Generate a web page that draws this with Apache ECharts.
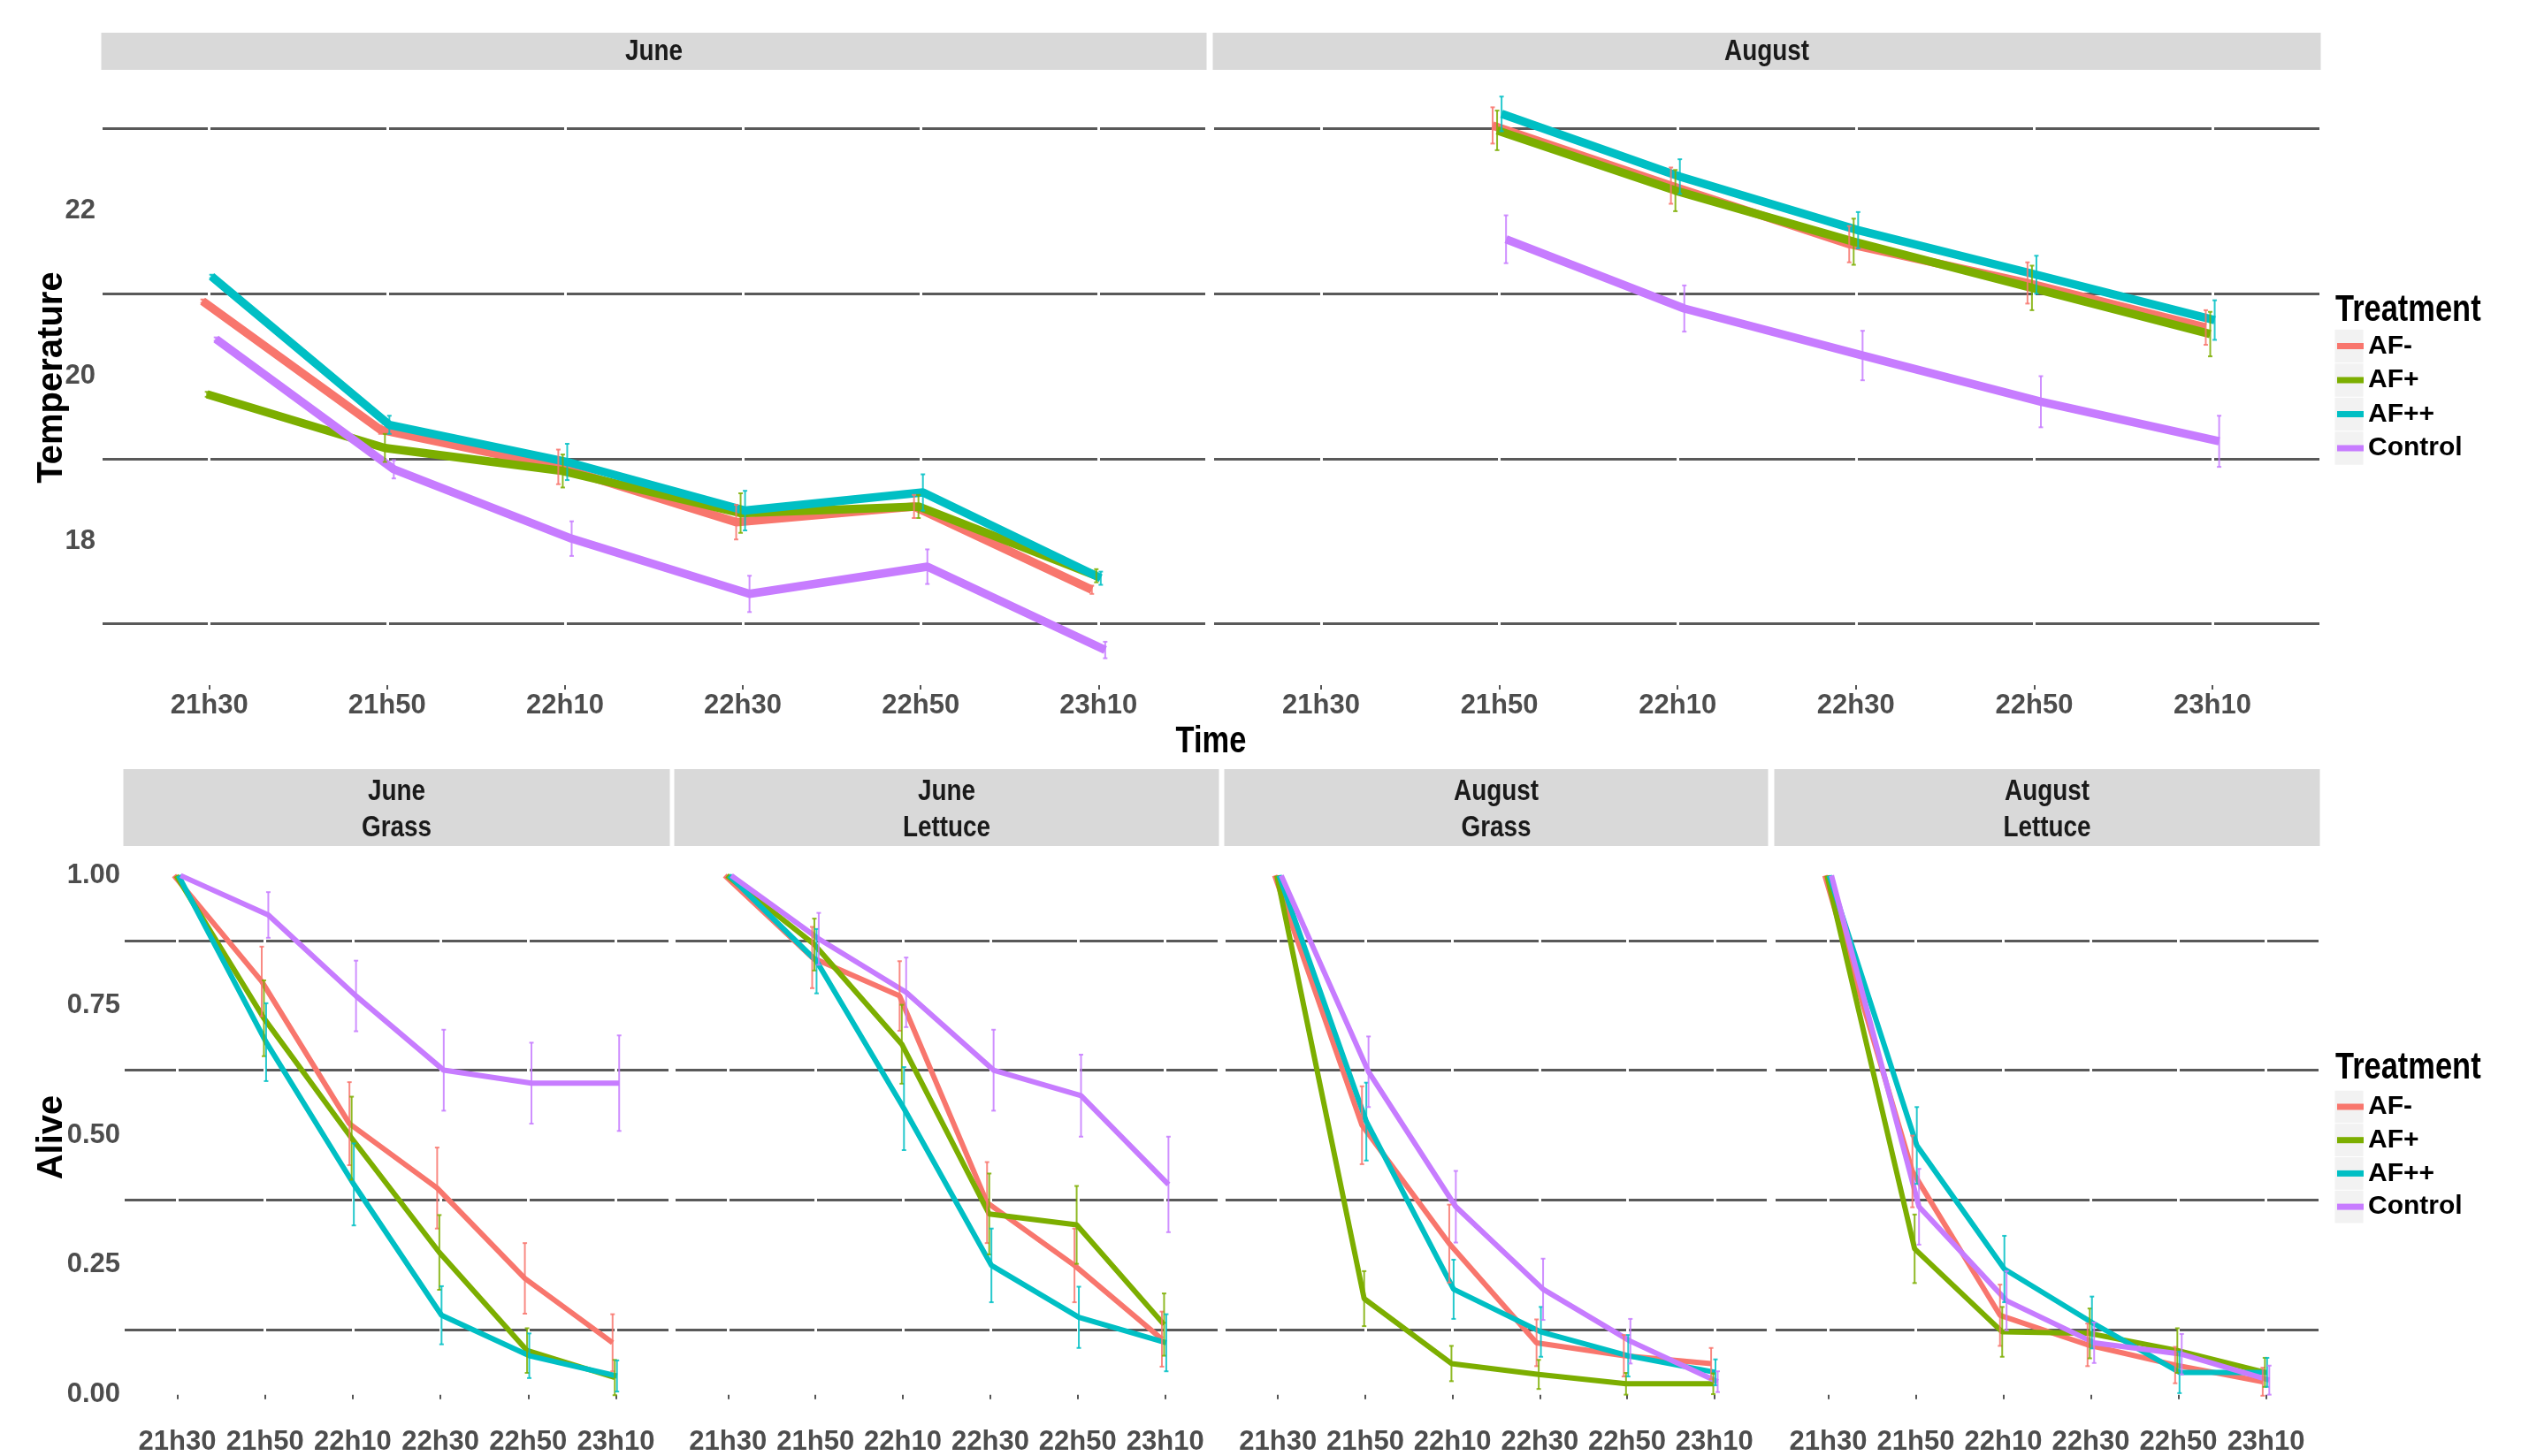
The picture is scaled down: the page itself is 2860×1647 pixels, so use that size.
<!DOCTYPE html>
<html><head><meta charset="utf-8">
<script src="https://cdn.jsdelivr.net/npm/echarts@6/dist/echarts.min.js"></script>
<style>html,body{margin:0;padding:0;background:#fff}#chart{width:2860px;height:1647px}</style>
</head><body><div id="chart"></div>
<script>
// ---------------- DATA ----------------
const times = ['21h30','21h50','22h10','22h30','22h50','23h10'];
const treatments = ['AF-','AF+','AF++','Control'];
const colors = ['#F8766D','#7CAE00','#00BFC4','#C77CFF'];
const tempTickLabels = [18, 20, 22];
const tempGridValues = [17, 19, 21, 23];
const aliveTickLabels = [0, 0.25, 0.5, 0.75, 1];
const aliveGridValues = [0.125, 0.375, 0.625, 0.875];

// Temperature (rows: AF-, AF+, AF++, Control)
const tempJune = [
  [20.91, 19.35, 18.90, 18.23, 18.42, 17.41],
  [19.78, 19.13, 18.85, 18.34, 18.42, 17.58],
  [21.21, 19.41, 18.96, 18.37, 18.59, 17.55],
  [20.45, 18.87, 18.03, 17.36, 17.69, 16.68]
];
const tempJuneErr = [
  [0.02, 0.05, 0.21, 0.21, 0.14, 0.05],
  [0.03, 0.17, 0.20, 0.24, 0.14, 0.08],
  [0.02, 0.11, 0.22, 0.24, 0.22, 0.08],
  [0.02, 0.11, 0.21, 0.22, 0.21, 0.10]
];
const tempAug = [
  [null, 23.04, 22.31, 21.60, 21.13, 20.59],
  [null, 22.98, 22.25, 21.63, 21.07, 20.51],
  [null, 23.18, 22.42, 21.77, 21.23, 20.68],
  [null, 21.66, 20.82, 20.25, 19.69, 19.21]
];
const tempAugErr = [
  [null, 0.22, 0.22, 0.22, 0.25, 0.21],
  [null, 0.24, 0.25, 0.28, 0.27, 0.27],
  [null, 0.21, 0.21, 0.22, 0.23, 0.24],
  [null, 0.29, 0.28, 0.30, 0.31, 0.31]
];

// Alive (rows: AF-, AF+, AF++, Control)
const aliveJuneGrass = [
  [1, 0.796, 0.522, 0.398, 0.224, 0.100],
  [1, 0.725, 0.494, 0.274, 0.085, 0.033],
  [1, 0.679, 0.405, 0.153, 0.075, 0.036],
  [1, 0.924, 0.768, 0.625, 0.600, 0.600]
];
const aliveJuneGrassErr = [
  [0, 0.067, 0.080, 0.078, 0.068, 0.055],
  [0, 0.073, 0.080, 0.072, 0.043, 0.034],
  [0, 0.075, 0.079, 0.056, 0.043, 0.030],
  [0, 0.044, 0.068, 0.078, 0.078, 0.092]
];
const aliveJuneLettuce = [
  [1, 0.842, 0.768, 0.370, 0.249, 0.107],
  [1, 0.867, 0.675, 0.348, 0.327, 0.135],
  [1, 0.835, 0.551, 0.249, 0.149, 0.100],
  [1, 0.878, 0.775, 0.625, 0.576, 0.405]
];
const aliveJuneLettuceErr = [
  [0, 0.059, 0.067, 0.078, 0.071, 0.053],
  [0, 0.050, 0.076, 0.078, 0.075, 0.060],
  [0, 0.062, 0.080, 0.071, 0.059, 0.055],
  [0, 0.050, 0.067, 0.078, 0.079, 0.092]
];
const aliveAugGrass = [
  [1, 0.519, 0.291, 0.100, 0.075, 0.060],
  [1, 0.185, 0.060, 0.039, 0.021, 0.021],
  [1, 0.526, 0.203, 0.121, 0.075, 0.043],
  [1, 0.622, 0.362, 0.203, 0.103, 0.025]
];
const aliveAugGrassErr = [
  [0, 0.075, 0.075, 0.045, 0.040, 0.030],
  [0, 0.053, 0.034, 0.028, 0.021, 0.020],
  [0, 0.075, 0.057, 0.048, 0.040, 0.025],
  [0, 0.068, 0.069, 0.059, 0.043, 0.020]
];
const aliveAugLettuce = [
  [1, 0.430, 0.153, 0.096, 0.057, 0.025],
  [1, 0.281, 0.121, 0.118, 0.085, 0.043],
  [1, 0.480, 0.242, 0.139, 0.043, 0.043],
  [1, 0.362, 0.181, 0.100, 0.078, 0.028]
];
const aliveAugLettuceErr = [
  [0, 0.069, 0.059, 0.041, 0.035, 0.027],
  [0, 0.066, 0.048, 0.048, 0.043, 0.028],
  [0, 0.074, 0.064, 0.050, 0.040, 0.028],
  [0, 0.073, 0.057, 0.039, 0.039, 0.028]
];

// ---------------- LAYOUT / STYLE ----------------
const FONT = '"Liberation Sans", Arial, sans-serif';
const SQX = 0.82; // horizontal squeeze of the reference's narrow text
const TICK_FS = 31;
const dodge = [-0.0375, -0.0125, 0.0125, 0.0375];
const topPanels = [
  {left: 116, width: 1247, strip: 'June', mean: tempJune, err: tempJuneErr},
  {left: 1373, width: 1250, strip: 'August', mean: tempAug, err: tempAugErr}
];
const topY = {top: 79, height: 696, stripTop: 37, stripH: 42, labelMargin: 8};
const botPanels = [
  {left: 141, width: 615, strip: 'June\nGrass', mean: aliveJuneGrass, err: aliveJuneGrassErr},
  {left: 764, width: 613, strip: 'June\nLettuce', mean: aliveJuneLettuce, err: aliveJuneLettuceErr},
  {left: 1386, width: 612, strip: 'August\nGrass', mean: aliveAugGrass, err: aliveAugGrassErr},
  {left: 2008, width: 614, strip: 'August\nLettuce', mean: aliveAugLettuce, err: aliveAugLettuceErr}
];
const botY = {top: 961, height: 651, stripTop: 870, stripH: 87, labelMargin: 9};

const grids = [], xAxes = [], yAxes = [], series = [], graphics = [];

function renderErr(params, api) {
  const x = api.value(0), lo = api.value(1), hi = api.value(2);
  const p1 = api.coord([x, lo]), p2 = api.coord([x, hi]);
  const cw = 2.5;
  const style = {stroke: api.visual('color'), lineWidth: 2, opacity: 0.85};
  return {type: 'group', children: [
    {type: 'line', shape: {x1: p1[0], y1: p1[1], x2: p2[0], y2: p2[1]}, style: style},
    {type: 'line', shape: {x1: p1[0] - cw, y1: p1[1], x2: p1[0] + cw, y2: p1[1]}, style: style},
    {type: 'line', shape: {x1: p2[0] - cw, y1: p2[1], x2: p2[0] + cw, y2: p2[1]}, style: style}
  ]};
}

function addPanel(p, yl, isTop, showY, lineW) {
  const gi = grids.length;
  grids.push({left: p.left, top: yl.top, width: p.width, height: yl.height, containLabel: false});
  xAxes.push({
    gridIndex: gi, type: 'value', min: -0.6, max: 5.6, z: 1,
    axisLine: {show: false},
    axisTick: {show: true, customValues: [0,1,2,3,4,5], length: 5, lineStyle: {color: '#555', width: 2}},
    axisLabel: {customValues: [0,1,2,3,4,5], formatter: v => times[Math.round(v)], margin: yl.labelMargin,
      fontSize: TICK_FS, fontWeight: 'bold', color: '#4d4d4d', fontFamily: FONT, hideOverlap: false},
    splitLine: {show: true, lineStyle: {color: '#ffffff', width: 3}}
  });
  const isT = isTop;
  yAxes.push({
    gridIndex: gi, type: 'value', z: 0,
    min: isT ? 16.254 : -0.05, max: isT ? 23.714 : 1.05,
    axisLine: {show: false},
    axisTick: {show: false, customValues: isT ? tempGridValues : aliveGridValues},
    axisLabel: {show: showY, customValues: isT ? tempTickLabels : aliveTickLabels,
      formatter: v => isT ? String(v) : v.toFixed(2), margin: isT ? 8 : 5,
      fontSize: TICK_FS, fontWeight: 'bold', color: '#4d4d4d', fontFamily: FONT},
    splitLine: {show: true, lineStyle: {color: '#595959', width: 3}}
  });
  treatments.forEach((t, k) => {
    const line = [], eb = [];
    p.mean[k].forEach((v, i) => {
      if (v === null) return;
      const x = i + dodge[k];
      line.push([x, v]);
      const e = p.err[k][i];
      if (e) eb.push([x, v - e, v + e]);
    });
    series.push({
      type: 'line', name: t, xAxisIndex: gi, yAxisIndex: gi, data: line,
      showSymbol: false, symbol: 'none', color: colors[k],
      lineStyle: {width: lineW, color: colors[k]}, z: 2 + k * 0.01, silent: true
    });
    series.push({
      type: 'custom', name: t + ' error', xAxisIndex: gi, yAxisIndex: gi, data: eb,
      renderItem: renderErr, color: colors[k], encode: {x: 0, y: [1, 2]}, z: 3, silent: true
    });
  });
  // strip
  graphics.push({type: 'rect', shape: {x: p.left - 1.5, y: yl.stripTop, width: p.width + 3, height: yl.stripH},
    style: {fill: '#d9d9d9'}, z: 0});
  graphics.push({type: 'text', x: p.left + p.width / 2, y: yl.stripTop + yl.stripH / 2 + (isTop ? 1 : 3),
    scaleX: SQX,
    style: {text: p.strip, fontSize: 34, fontWeight: 'bold', fontFamily: FONT, fill: '#1a1a1a',
      align: 'center', verticalAlign: 'middle', lineHeight: 41}, z: 1});
}

topPanels.forEach((p, i) => addPanel(p, topY, true, i === 0, 9.5));
botPanels.forEach((p, i) => addPanel(p, botY, false, i === 0, 6));

// axis titles
graphics.push({type: 'text', x: 59, y: topY.top + topY.height / 2, rotation: Math.PI / 2,
  style: {text: 'Temperature', fontSize: 40, fontWeight: 'bold', fontFamily: FONT, fill: '#000', align: 'center', verticalAlign: 'middle'}});
graphics.push({type: 'text', x: 59, y: botY.top + botY.height / 2, rotation: Math.PI / 2,
  style: {text: 'Alive', fontSize: 40, fontWeight: 'bold', fontFamily: FONT, fill: '#000', align: 'center', verticalAlign: 'middle'}});
graphics.push({type: 'text', x: (topPanels[0].left + topPanels[1].left + topPanels[1].width) / 2, y: 839,
  scaleX: SQX,
  style: {text: 'Time', fontSize: 42, fontWeight: 'bold', fontFamily: FONT, fill: '#000', align: 'center', verticalAlign: 'middle'}});

// legends
const legendLeft = 2643;
const LH = 30;
const legendDefs = [{titleY: 351, top: 376.5, gap: 8.5}, {titleY: 1208, top: 1237, gap: 7.7}];
const legends = legendDefs.map(L => ({
  orient: 'vertical', left: legendLeft, top: L.top, itemWidth: 30, itemHeight: 7, itemGap: L.gap,
  icon: 'rect', data: treatments, selectedMode: false, padding: 0,
  textStyle: {fontSize: 30, fontWeight: 'bold', color: '#000', lineHeight: LH, fontFamily: FONT}
}));
legendDefs.forEach(L => {
  graphics.push({type: 'text', x: legendLeft - 2, y: L.titleY, scaleX: SQX,
    style: {text: 'Treatment', fontSize: 42, fontWeight: 'bold', fontFamily: FONT, fill: '#000', align: 'left', verticalAlign: 'middle'}});
  treatments.forEach((t, k) => {
    const cy = L.top + LH / 2 + k * (LH + L.gap);
    graphics.push({type: 'rect', shape: {x: legendLeft - 2.5, y: cy - (LH + L.gap) / 2 + 0.5, width: 32, height: LH + L.gap - 1},
      style: {fill: '#f2f2f2'}, z: 0});
  });
});

const chart = echarts.init(document.getElementById('chart'), null, {renderer: 'canvas'});
chart.setOption({
  animation: false,
  backgroundColor: '#ffffff',
  grid: grids, xAxis: xAxes, yAxis: yAxes, series: series,
  legend: legends,
  graphic: {elements: graphics}
});
</script></body></html>
